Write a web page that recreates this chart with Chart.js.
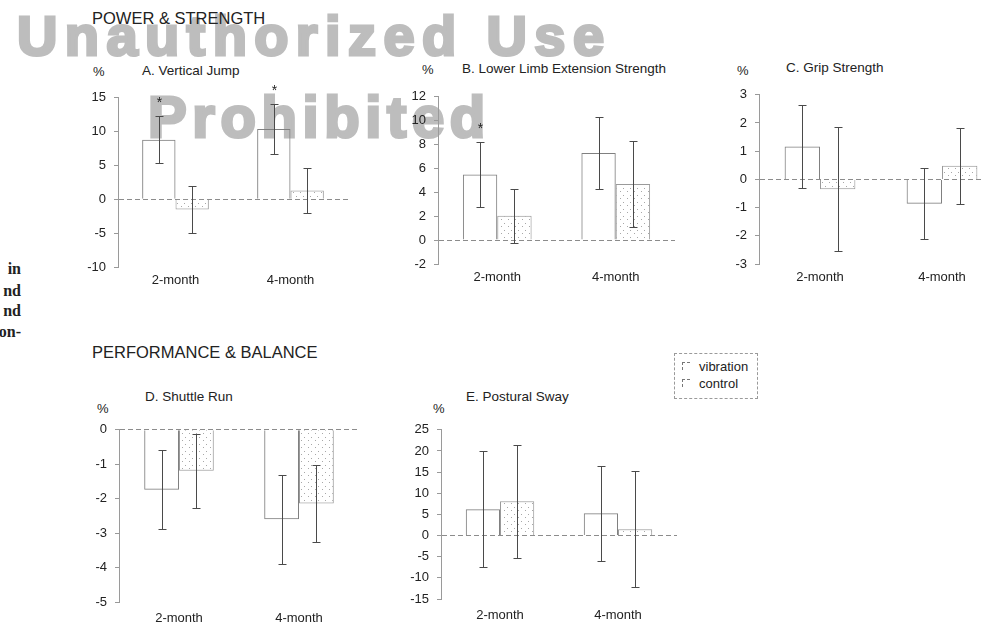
<!DOCTYPE html>
<html>
<head>
<meta charset="utf-8">
<script src="https://cdn.jsdelivr.net/npm/chart.js@4.4.1/dist/chart.umd.min.js"></script>
<style>
  html,body{margin:0;padding:0;width:983px;height:623px;overflow:hidden;background:#fff;}
  body{position:relative;font-family:"Liberation Sans",Arial,sans-serif;color:#222;}
  .abs{position:absolute;white-space:nowrap;}
  .wm{position:absolute;font-family:"Liberation Sans",Arial,sans-serif;font-weight:bold;color:#bdbdbd;-webkit-text-stroke:3px #bdbdbd;white-space:nowrap;z-index:0;line-height:1;}
  canvas{position:absolute;z-index:1;}
  .hdr{font-size:16.5px;}
  .ttl{font-size:13.5px;}
  .pct{font-size:13px;}
  .side{font-family:"Liberation Serif","Times New Roman",serif;font-weight:bold;font-size:16px;text-align:right;}
  #legend{position:absolute;left:674px;top:353px;width:82px;height:44px;border:1px dashed #9a9a9a;z-index:2;font-size:13px;}
  #legend .it{position:absolute;left:7px;}
  #legend .sw{display:inline-block;width:7px;height:7px;border-top:1px dashed #777;border-left:1px dashed #777;margin-right:9px;vertical-align:1px;}
</style>
</head>
<body>
<div class="wm" style="left:17px;top:8px;font-size:56px;letter-spacing:7.4px;">Unauthorized Use</div>
<div class="wm" style="left:148px;top:88px;font-size:58px;letter-spacing:5.6px;">Prohibited</div>

<div class="abs side" style="right:962px;top:260px;">in</div>
<div class="abs side" style="right:962px;top:282px;">nd</div>
<div class="abs side" style="right:962px;top:302px;">nd</div>
<div class="abs side" style="right:962px;top:323px;">on-</div>

<div class="abs hdr" style="left:92px;top:9px;">POWER &amp; STRENGTH</div>
<div class="abs hdr" style="left:92px;top:343px;">PERFORMANCE &amp; BALANCE</div>

<div class="abs pct" style="left:93px;top:64px;">%</div>
<div class="abs ttl" style="left:142px;top:63px;">A. Vertical Jump</div>
<div class="abs pct" style="left:422px;top:62px;">%</div>
<div class="abs ttl" style="left:462px;top:61px;">B. Lower Limb Extension Strength</div>
<div class="abs pct" style="left:737px;top:63px;">%</div>
<div class="abs ttl" style="left:786px;top:60px;">C. Grip Strength</div>
<div class="abs ttl" style="left:145px;top:389px;">D. Shuttle Run</div>
<div class="abs pct" style="left:97px;top:401px;">%</div>
<div class="abs ttl" style="left:466px;top:389px;">E. Postural Sway</div>
<div class="abs pct" style="left:433px;top:401px;">%</div>

<div id="legend">
  <div class="it" style="top:5px;"><span class="sw"></span>vibration</div>
  <div class="it" style="top:22px;"><span class="sw"></span>control</div>
</div>

<canvas id="cA"></canvas>
<canvas id="cB"></canvas>
<canvas id="cC"></canvas>
<canvas id="cD"></canvas>
<canvas id="cE"></canvas>

<script>
// ---------- data ----------
const categories = ['2-month', '4-month'];

// A. Vertical Jump
const jumpVib   = [8.8, 10.4];
const jumpVibSD = [3.5, 3.7];
const jumpCon   = [-1.5, 1.3];
const jumpConSD = [3.5, 3.3];
const jumpStars = [true, true];
const jumpTicks = [-10, 15, 5];

// B. Lower Limb Extension Strength
const limbVib   = [5.5, 7.3];
const limbVibSD = [2.75, 3.0];
const limbCon   = [2.05, 4.7];
const limbConSD = [2.25, 3.6];
const limbStars = [true, false];
const limbTicks = [-2, 12, 2];

// C. Grip Strength
const gripVib   = [1.17, -0.86];
const gripVibSD = [1.48, 1.25];
const gripCon   = [-0.35, 0.48];
const gripConSD = [2.2, 1.35];
const gripStars = [false, false];
const gripTicks = [-3, 3, 1];

// D. Shuttle Run
const shuttleVib   = [-1.74, -2.6];
const shuttleVibSD = [1.15, 1.3];
const shuttleCon   = [-1.19, -2.14];
const shuttleConSD = [1.07, 1.12];
const shuttleStars = [false, false];
const shuttleTicks = [-5, 0, 1];

// E. Postural Sway
const swayVib   = [6.2, 5.3];
const swayVibSD = [13.7, 11.2];
const swayCon   = [8.1, 1.5];
const swayConSD = [13.3, 13.7];
const swayStars = [false, false];
const swayTicks = [-15, 25, 5];

// ---------- styling helpers ----------
function stipple() {
  const c = document.createElement('canvas');
  c.width = 7; c.height = 7;
  const g = c.getContext('2d');
  g.fillStyle = 'rgba(255,255,255,0.6)';
  g.fillRect(0, 0, 7, 7);
  g.fillStyle = '#a8a8a8';
  g.fillRect(1, 2, 1, 1);
  g.fillRect(5, 5, 1, 1);
  return g.createPattern(c, 'repeat');
}

const errorBars = {
  id: 'errorBars',
  afterDatasetsDraw(chart) {
    const ctx = chart.ctx;
    const y = chart.scales.y;
    chart.data.datasets.forEach((ds, i) => {
      const meta = chart.getDatasetMeta(i);
      meta.data.forEach((bar, j) => {
        const v = ds.data[j], e = ds.sd[j];
        const top = Math.round(y.getPixelForValue(v + e)) + 0.5;
        const bot = Math.round(y.getPixelForValue(v - e)) + 0.5;
        const x = Math.round(bar.x) + 0.5;
        ctx.save();
        ctx.strokeStyle = '#4a4a4a';
        ctx.lineWidth = 1;
        ctx.beginPath();
        ctx.moveTo(x, top); ctx.lineTo(x, bot);
        ctx.moveTo(x - 4, top); ctx.lineTo(x + 4, top);
        ctx.moveTo(x - 4, bot); ctx.lineTo(x + 4, bot);
        ctx.stroke();
        if (ds.stars && ds.stars[j]) {
          ctx.fillStyle = '#222';
          ctx.font = '14px "Liberation Sans", Arial, sans-serif';
          ctx.textAlign = 'center';
          ctx.textBaseline = 'middle';
          ctx.fillText('*', x, top - 13);
        }
        ctx.restore();
      });
    });
  }
};

function makeChart(id, geo, vib, vibSD, con, conSD, stars, ticks, xPad) {
  const cv = document.getElementById(id);
  cv.width = geo.w; cv.height = geo.h;
  cv.style.left = geo.left + 'px';
  cv.style.top = geo.top + 'px';
  cv.style.width = geo.w + 'px';
  cv.style.height = geo.h + 'px';
  return new Chart(cv, {
    type: 'bar',
    data: {
      labels: categories,
      datasets: [
        { label: 'vibration', data: vib, sd: vibSD, stars: stars,
          backgroundColor: 'rgba(255,255,255,0)', borderColor: '#808080', borderWidth: 1 },
        { label: 'control', data: con, sd: conSD,
          backgroundColor: stipple(), borderColor: '#9a9a9a', borderWidth: 1 }
      ]
    },
    options: {
      responsive: false,
      animation: false,
      devicePixelRatio: 1,
      layout: { padding: { top: 10, left: 0, right: 0, bottom: 0 } },
      datasets: { bar: { categoryPercentage: 0.58, barPercentage: 1.0 } },
      plugins: { legend: { display: false }, tooltip: { enabled: false } },
      scales: {
        x: {
          grid: { display: false, drawTicks: false },
          border: { display: false },
          ticks: { color: '#222', padding: xPad, font: { family: '"Liberation Sans", Arial, sans-serif', size: 13 } },
          afterFit(s) { s.height = 30; }
        },
        y: {
          min: ticks[0], max: ticks[1],
          ticks: { stepSize: ticks[2], color: '#222', padding: 8, autoSkip: false,
                   font: { family: '"Liberation Sans", Arial, sans-serif', size: 13 } },
          grid: {
            color: c => (c.tick && c.tick.value === 0) ? '#8c8c8c' : 'rgba(0,0,0,0)',
            tickColor: '#999', tickLength: 4, drawTicks: true
          },
          border: { display: true, color: '#9a9a9a', dash: [5, 3] },
          afterFit(s) { s.width = 40; }
        }
      }
    },
    plugins: [errorBars]
  });
}

makeChart('cA', { left: 78,  top: 82,  w: 270, h: 215 }, jumpVib, jumpVibSD, jumpCon, jumpConSD, jumpStars, jumpTicks, 6);
makeChart('cB', { left: 398, top: 81,  w: 277, h: 213 }, limbVib, limbVibSD, limbCon, limbConSD, limbStars, limbTicks, 6);
makeChart('cC', { left: 719, top: 79,  w: 284, h: 215 }, gripVib, gripVibSD, gripCon, gripConSD, gripStars, gripTicks, 6);
makeChart('cD', { left: 79,  top: 414, w: 280, h: 218 }, shuttleVib, shuttleVibSD, shuttleCon, shuttleConSD, shuttleStars, shuttleTicks, 9);
makeChart('cE', { left: 401, top: 414, w: 276, h: 215 }, swayVib, swayVibSD, swayCon, swayConSD, swayStars, swayTicks, 9);
</script>
</body>
</html>
